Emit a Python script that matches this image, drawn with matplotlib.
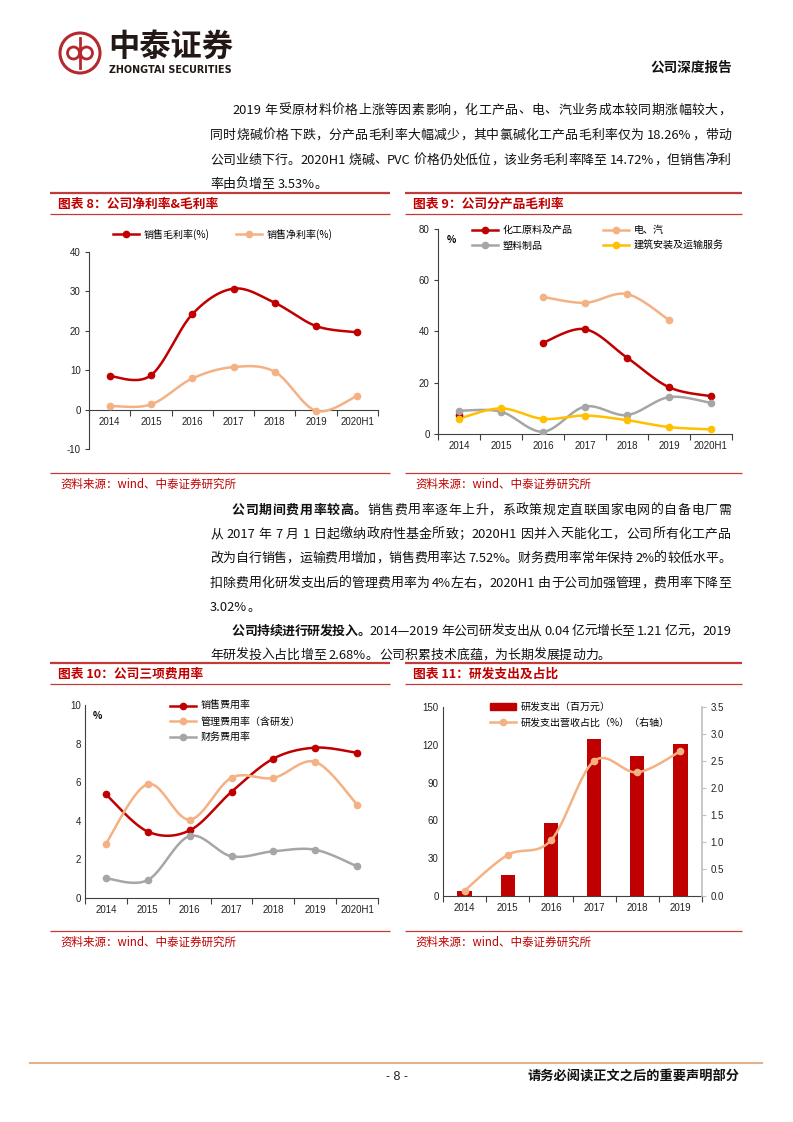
import re
import numpy as np
import matplotlib
matplotlib.use('Agg')
import matplotlib.pyplot as plt
from matplotlib.lines import Line2D
from matplotlib.patches import Circle, Patch

plt.rcParams['font.family'] = ['Noto Sans CJK SC', 'DejaVu Sans']
plt.rcParams['axes.unicode_minus'] = False

# ---- data ----
years7 = ['2014', '2015', '2016', '2017', '2018', '2019', '2020H1']
years6 = ['2014', '2015', '2016', '2017', '2018', '2019']

gross_margin = [8.5, 8.7, 24.2, 30.7, 27.1, 21.2, 19.6]
net_margin = [0.9, 1.3, 7.9, 10.8, 9.6, -0.3, 3.53]

chem_margin = [7.6, np.nan, 35.6, 40.9, 29.8, 18.26, 14.72]
power_margin = [np.nan, np.nan, 53.5, 51.2, 54.6, 44.5, np.nan]
plastic_margin = [9.1, 8.7, 0.9, 10.7, 7.4, 14.4, 12.1]
build_margin = [6.0, 10.0, 5.9, 7.2, 5.4, 2.7, 1.8]

sell_rate = [5.37, 3.44, 3.5, 5.5, 7.22, 7.79, 7.52]
admin_rate = [2.82, 5.9, 4.06, 6.23, 6.22, 7.05, 4.84]
fin_rate = [1.02, 0.93, 3.21, 2.16, 2.42, 2.5, 1.64]

rd_spend = [4.0, 17.0, 57.8, 124.3, 110.8, 121.0]
rd_ratio = [0.1, 0.76, 1.03, 2.5, 2.29, 2.68]

W, H = 793, 1122
RED = '#C00000'
PEACH = '#F4B183'
GRAY = '#A6A6A6'
GOLD = '#FFC000'
RULE = '#C23B3B'
AX = '#404040'
NUM = ['Liberation Sans', 'Noto Sans CJK SC']

fig = plt.figure(figsize=(W / 100, H / 100), dpi=100)
page = fig.add_axes([0, 0, 1, 1], zorder=0)
page.set_xlim(0, W)
page.set_ylim(H, 0)
page.axis('off')
renderer = fig.canvas.get_renderer()


def box(x, y, w, h):
    return [x / W, 1 - (y + h) / H, w / W, h / H]


def smooth(xs, ys, n=24):
    # excel-like smoothed line: cubic bezier through the points
    px, py = [], []
    m = len(xs)
    for i in range(m - 1):
        x0, y0 = (xs[i - 1], ys[i - 1]) if i > 0 else (xs[i], ys[i])
        x1, y1 = xs[i], ys[i]
        x2, y2 = xs[i + 1], ys[i + 1]
        x3, y3 = (xs[i + 2], ys[i + 2]) if i + 2 < m else (x2, y2)
        c1x, c1y = x1 + (x2 - x0) / 6, y1 + (y2 - y0) / 6
        c2x, c2y = x2 - (x3 - x1) / 6, y2 - (y3 - y1) / 6
        t = np.linspace(0, 1, n)
        a, b, c, d = (1 - t) ** 3, 3 * (1 - t) ** 2 * t, 3 * (1 - t) * t ** 2, t ** 3
        px.extend(a * x1 + b * c1x + c * c2x + d * x2)
        py.extend(a * y1 + b * c1y + c * c2y + d * y2)
    return px, py


def draw_series(ax, vals, color, lw=1.8, ms=4.5):
    y = np.asarray(vals, float)
    x = np.arange(len(y))
    ok = ~np.isnan(y)
    idx = np.flatnonzero(ok)
    for run in np.split(idx, np.flatnonzero(np.diff(idx) > 1) + 1):
        if len(run) > 1:
            sx, sy = smooth(x[run], y[run])
            ax.plot(sx, sy, color=color, lw=lw, zorder=3)
    ax.plot(x[ok], y[ok], 'o', color=color, ms=ms, zorder=4)
    return Line2D([], [], color=color, lw=lw, marker='o', ms=ms)


def cat_axis(ax, labels, at_zero=False):
    if at_zero:
        ax.spines['bottom'].set_position(('data', 0))
    n = len(labels)
    ax.set_xlim(-0.5, n - 0.5)
    ax.set_xticks(np.arange(-0.5, n, 1))
    ax.set_xticklabels([])
    ax.set_xticks(range(n), minor=True)
    ax.set_xticklabels(labels, minor=True, fontsize=7, family=NUM, color='#222')
    ax.tick_params(axis='x', which='major', length=4, color=AX, width=0.8)
    ax.tick_params(axis='x', which='minor', length=0, pad=5)
    ax.spines['top'].set_visible(False)
    ax.spines['right'].set_visible(False)
    for s in ['left', 'bottom']:
        ax.spines[s].set_color(AX)
        ax.spines[s].set_linewidth(0.8)
    ax.set_facecolor('none')


def y_ticks(ax, ticks, length=3):
    ax.set_yticks(ticks)
    ax.set_yticklabels([str(t) for t in ticks], fontsize=7, family=NUM, color='#222')
    ax.tick_params(axis='y', length=length, color=AX, width=0.8, pad=3)


def legend(ax, handles, labels, x, y, ncol=1, colsp=2.0, lsp=0.35):
    ax.legend(handles, labels, loc='upper left', bbox_to_anchor=(x / W, 1 - y / H),
              bbox_transform=fig.transFigure, ncol=ncol, frameon=False, fontsize=7.2,
              handlelength=2.6, handletextpad=0.5, columnspacing=colsp,
              labelspacing=lsp, borderpad=0, borderaxespad=0)


# ---- page furniture ----
TOK = re.compile(r'[A-Za-z0-9.%\u2014\-]+|\s+|.')


def put_line(y, segs, x0, x1=None, size=9.3):
    items = []
    for s, w in segs:
        for t in TOK.findall(s):
            if t.isspace():
                items.append((None, 3.0))
            else:
                a = page.text(0, y, t, fontsize=size, fontweight=w, va='center',
                              ha='left', color='#111')
                items.append((a, a.get_window_extent(renderer).width))
    gap = 0.0
    if x1 is not None and len(items) > 1:
        gap = (x1 - x0 - sum(w for _, w in items)) / (len(items) - 1)
    x = x0
    for a, w in items:
        if a is not None:
            a.set_x(x)
        x += w + gap


N, B = 'normal', 'bold'
L0, R0, IND = 210, 731, 232

put_line(110, [('2019 年受原材料价格上涨等因素影响，化工产品、电、汽业务成本较同期涨幅较大，', N)], IND, R0)
put_line(135, [('同时烧碱价格下跌，分产品毛利率大幅减少，其中氯碱化工产品毛利率仅为 18.26%，带动', N)], L0, R0)
put_line(160, [('公司业绩下行。2020H1 烧碱、PVC 价格仍处低位，该业务毛利率降至 14.72%，但销售净利', N)], L0, R0)
put_line(184, [('率由负增至 3.53%。', N)], L0)

put_line(510, [('公司期间费用率较高。', B), ('销售费用率逐年上升，系政策规定直联国家电网的自备电厂需', N)], IND, R0)
put_line(534, [('从 2017 年 7 月 1 日起缴纳政府性基金所致；2020H1 因并入天能化工，公司所有化工产品', N)], L0, R0)
put_line(558, [('改为自行销售，运输费用增加，销售费用率达 7.52%。财务费用率常年保持 2%的较低水平。', N)], L0, R0)
put_line(583, [('扣除费用化研发支出后的管理费用率为 4%左右，2020H1 由于公司加强管理，费用率下降至', N)], L0, R0)
put_line(607, [('3.02%。', N)], L0)
put_line(631, [('公司持续进行研发投入。', B), ('2014—2019 年公司研发支出从 0.04 亿元增长至 1.21 亿元，2019', N)], IND, R0)
put_line(655, [('年研发投入占比增至 2.68%。公司积累技术底蕴，为长期发展提动力。', N)], L0)

# logo
page.add_patch(Circle((80, 53), 20, fill=False, ec='#B5282E', lw=2.2))
page.add_patch(Circle((73.5, 53), 6, fill=False, ec='#B5282E', lw=2))
page.add_patch(Circle((86.5, 53), 6, fill=False, ec='#B5282E', lw=2))
page.plot([80, 80], [38, 68], color='#B5282E', lw=2)
page.text(108, 47, '中泰证券', fontsize=22.5, fontweight='bold', color='#231815', va='center')
page.text(109, 70, 'ZHONGTAI SECURITIES', fontsize=6.9, fontweight='bold', color='#231815',
          va='center', family=['DejaVu Sans'])
page.text(732, 68, '公司深度报告', fontsize=9.8, fontweight='bold', ha='right', va='center', color='#111')

# chart frames
frames = [
    (50, 390, 193, 473, '图表 8：公司净利率&毛利率'),
    (405, 742, 193, 473, '图表 9：公司分产品毛利率'),
    (50, 390, 663, 931, '图表 10：公司三项费用率'),
    (405, 742, 663, 931, '图表 11：研发支出及占比'),
]
for xa, xb, yt, yb, title in frames:
    page.plot([xa, xb], [yt, yt], color=RULE, lw=1.6, solid_capstyle='butt')
    page.plot([xa, xb], [yt + 21, yt + 21], color=RULE, lw=0.9, solid_capstyle='butt')
    page.plot([xa, xb], [yb, yb], color=RULE, lw=0.9, solid_capstyle='butt')
    page.text(xa + 8, yt + 11, title, fontsize=9.2, fontweight='bold', color=RED, va='center')
    page.text(xa + 10, yb + 11, '资料来源：wind、中泰证券研究所', fontsize=8.3, color=RED, va='center')

# footer
page.plot([30, 762], [1063, 1063], color='#E2B48E', lw=1.5)
page.text(397, 1077, '- 8 -', fontsize=9, ha='center', va='center', family=NUM, color='#222')
page.text(740, 1077, '请务必阅读正文之后的重要声明部分', fontsize=9.5, fontweight='bold',
          ha='right', va='center', color='#111')

# ---- chart 8 ----
ax = fig.add_axes(box(89, 252, 289, 197), zorder=2)
cat_axis(ax, years7, at_zero=True)
ax.set_ylim(-10, 40)
y_ticks(ax, [-10, 0, 10, 20, 30, 40])
h1 = draw_series(ax, gross_margin, RED)
h2 = draw_series(ax, net_margin, PEACH)
legend(ax, [h1, h2], ['销售毛利率(%)', '销售净利率(%)'], 113, 229, ncol=2, colsp=2.6)

# ---- chart 9 ----
ax = fig.add_axes(box(438, 229, 294, 205), zorder=2)
cat_axis(ax, years7)
ax.set_ylim(0, 80)
y_ticks(ax, [0, 20, 40, 60, 80])
hc = draw_series(ax, chem_margin, RED)
hp = draw_series(ax, power_margin, PEACH)
hs = draw_series(ax, plastic_margin, GRAY)
hb = draw_series(ax, build_margin, GOLD)
ax.text(0.03, 0.97, '%', transform=ax.transAxes, fontsize=7, fontweight='bold', va='top', ha='left')
legend(ax, [hc, hs, hp, hb], ['化工原料及产品', '塑料制品', '电、汽', '建筑安装及运输服务'],
       472, 225, ncol=2, colsp=3.0, lsp=0.55)

# ---- chart 10 ----
ax = fig.add_axes(box(85, 705, 293, 193), zorder=2)
cat_axis(ax, years7)
ax.set_ylim(0, 10)
y_ticks(ax, [0, 2, 4, 6, 8, 10], length=0)
g1 = draw_series(ax, sell_rate, RED)
g2 = draw_series(ax, admin_rate, PEACH)
g3 = draw_series(ax, fin_rate, GRAY)
ax.text(0.027, 0.97, '%', transform=ax.transAxes, fontsize=7, fontweight='bold', va='top', ha='left')
legend(ax, [g1, g2, g3], ['销售费用率', '管理费用率（含研发）', '财务费用率'], 170, 701, lsp=0.55)

# ---- chart 11 ----
ax = fig.add_axes(box(443, 707, 259, 189), zorder=2)
cat_axis(ax, years6)
ax.bar(range(len(years6)), rd_spend, width=0.33, color=RED, zorder=2)
ax.set_ylim(0, 150)
y_ticks(ax, [0, 30, 60, 90, 120, 150], length=0)
ax2 = ax.twinx()
ax2.set_ylim(0, 3.5)
r_ticks = [0, 0.5, 1.0, 1.5, 2.0, 2.5, 3.0, 3.5]
ax2.set_yticks(r_ticks)
ax2.set_yticklabels(['%.1f' % t for t in r_ticks], fontsize=7, family=NUM, color='#222')
ax2.tick_params(axis='y', length=3, color='#BFBFBF', pad=3)
for s in ['left', 'top', 'bottom']:
    ax2.spines[s].set_visible(False)
ax2.spines['right'].set_color('#BFBFBF')
ax2.spines['right'].set_linewidth(1.2)
ax2.set_facecolor('none')
k2 = draw_series(ax2, rd_ratio, PEACH)
k1 = Patch(color=RED)
legend(ax2, [k1, k2], ['研发支出（百万元）', '研发支出营收占比（%）（右轴）'], 490, 702, lsp=0.55)

fig.savefig('out.png', dpi=100)
